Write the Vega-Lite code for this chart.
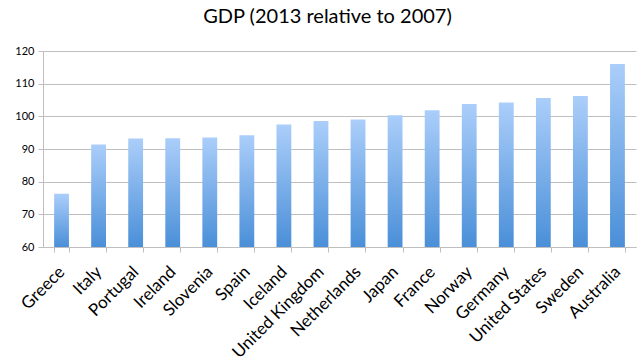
{
  "$schema": "https://vega.github.io/schema/vega-lite/v6.json",
  "autosize": "none",
  "width": 593,
  "height": 196,
  "padding": {"left": 43, "top": 51, "right": 3, "bottom": 112},
  "background": "white",
  "title": {
    "text": "GDP (2013 relative to 2007)",
    "font": "Lato",
    "fontSize": 20,
    "fontWeight": "normal",
    "color": "#000000",
    "anchor": "middle",
    "dx": -12,
    "offset": 18
  },
  "data": {
    "values": [
      {"country": "Greece", "gdp": 76.3},
      {"country": "Italy", "gdp": 91.4},
      {"country": "Portugal", "gdp": 93.2},
      {"country": "Ireland", "gdp": 93.3},
      {"country": "Slovenia", "gdp": 93.5},
      {"country": "Spain", "gdp": 94.2},
      {"country": "Iceland", "gdp": 97.5},
      {"country": "United Kingdom", "gdp": 98.6},
      {"country": "Netherlands", "gdp": 99.0},
      {"country": "Japan", "gdp": 100.3},
      {"country": "France", "gdp": 101.9},
      {"country": "Norway", "gdp": 103.8},
      {"country": "Germany", "gdp": 104.2},
      {"country": "United States", "gdp": 105.6},
      {"country": "Sweden", "gdp": 106.2},
      {"country": "Australia", "gdp": 116.0}
    ]
  },
  "mark": {
    "type": "bar",
    "color": {
      "gradient": "linear",
      "x1": 0, "y1": 0, "x2": 0, "y2": 1,
      "stops": [
        {"offset": 0, "color": "#abcefa"},
        {"offset": 1, "color": "#4a8fd8"}
      ]
    }
  },
  "encoding": {
    "x": {
      "field": "country",
      "type": "nominal",
      "sort": null,
      "title": null,
      "scale": {"paddingInner": 0.6, "paddingOuter": 0.3},
      "axis": {
        "labelAngle": -45,
        "labelAlign": "right",
        "labelBaseline": "middle",
        "labelFont": "Lato",
        "labelFontSize": 17,
        "labelColor": "#000000",
        "labelPadding": 17,
        "labelOverlap": false,
        "labelBound": false,
        "tickBand": "extent",
        "tickColor": "#bfbfbf",
        "tickSize": 5,
        "domainColor": "#bfbfbf",
        "grid": false
      }
    },
    "y": {
      "field": "gdp",
      "type": "quantitative",
      "title": null,
      "scale": {"domain": [60, 120], "nice": false, "zero": false},
      "axis": {
        "values": [60, 70, 80, 90, 100, 110, 120],
        "labelFont": "Lato",
        "labelFontSize": 11,
        "labelColor": "#000000",
        "labelPadding": 4,
        "tickColor": "#bfbfbf",
        "tickSize": 5,
        "domainColor": "#bfbfbf",
        "gridColor": "#bfbfbf",
        "gridWidth": 1
      }
    },
    "y2": {"datum": 60}
  },
  "config": {
    "view": {"stroke": null}
  }
}
